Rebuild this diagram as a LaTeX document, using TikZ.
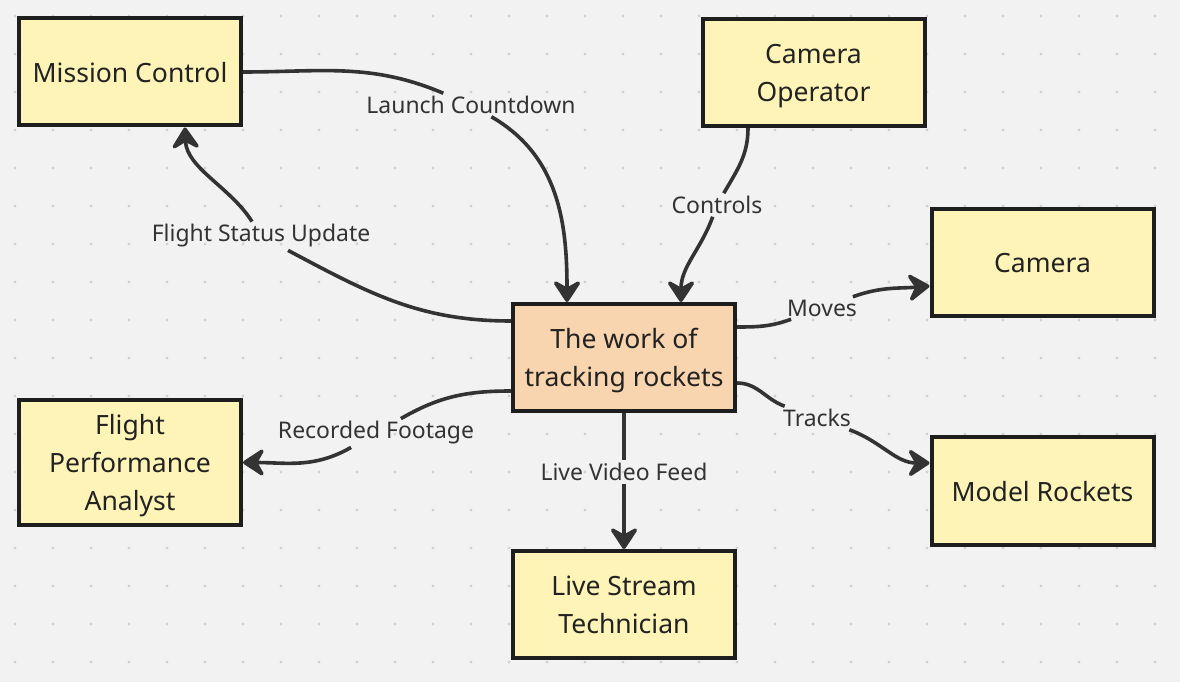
\documentclass[tikz,border=0pt]{standalone}
\usepackage{fontspec}
\setmainfont{Noto Sans}
\usepackage{xcolor}
\usepackage{tikz}
\usetikzlibrary{arrows.meta,positioning,calc}

\definecolor{bgcol}{HTML}{F2F2F2}
\definecolor{dotcol}{HTML}{D2D2D2}
\definecolor{boxfill}{HTML}{FFF4B8}
\definecolor{hubfill}{HTML}{F8D4AF}
\definecolor{boxline}{HTML}{1E1E1E}
\definecolor{linecol}{HTML}{333333}
\definecolor{txtcol}{HTML}{222222}
\definecolor{lblcol}{HTML}{333333}

\newcommand{\boxtextfont}{\fontsize{19.9pt}{28.5pt}\selectfont}
\newcommand{\edgelabelfont}{\fontsize{17.2pt}{20pt}\selectfont}

\begin{document}
\begin{tikzpicture}[
  x=0.75pt, y=0.75pt,
  box/.style={draw=boxline, line width=3pt, fill=boxfill, minimum width=166.5pt, minimum height=80.25pt, inner sep=0pt, text depth=0pt, align=center, font=\boxtextfont, text=txtcol},
  hub/.style={box, fill=hubfill},
  lbl/.style={font=\edgelabelfont, text=lblcol, inner sep=2pt},
  conn/.style={line width=2.7pt, draw=linecol},
  arr/.style={conn, -{Stealth[round, length=19pt, width=25pt, inset=7pt]}}
]
% canvas
\useasboundingbox (0,0) rectangle (1180,682);
\fill[bgcol] (0,0) rectangle (1180,682);
\foreach \i in {0,...,30}
  \foreach \j in {0,...,17}
    \fill[dotcol] (15+38*\i, 666-38*\j) circle (1.6);

% actors
\node[hub] (work) at (624,324.5) {The work of\\tracking rockets};
\node[box] (mission) at (130,610) {Mission Control};
\node[box] (operator) at (813.5,609.5) {Camera\\Operator};
\node[box] (camera) at (1042.5,419) {Camera};
\node[box, minimum height=93.75pt] (analyst) at (130,219.5) {Flight\\Performance\\Analyst};
\node[box] (rockets) at (1042.5,191) {Model Rockets};
\node[box, below=102pt of work] (tech) {Live Stream\\Technician};

% edge labels
\node[lbl] (lcount) at (471,577) {Launch Countdown};
\node[lbl] (status) at (261,446) {Flight Status Update};
\node[lbl] (ctrl) at (717,477) {Controls};
\node[lbl] (moves) at (822,374) {Moves};
\node[lbl] (tracks) at (817,264) {Tracks};
\node[lbl] (footage) at (376,249) {Recorded Footage};
\node[lbl] (feed) at (624,210) {Live Video Feed};

% flows
\draw[conn] (mission.east) to[out=0,in=157] (lcount);
\draw[arr] (lcount) to[out=-30,in=90] ($(work.north)+(-57,0)$);
\draw[conn] ($(work.west)+(0,36.5)$) to[out=180,in=-28] (status);
\draw[arr] (status) to[out=122,in=-88, looseness=0.9] ($(mission.south)+(55,0)$);
\draw[conn] ($(operator.south)+(-65.5,0)$) to[out=-90,in=60] (ctrl);
\draw[arr] (ctrl) to[out=-110,in=90] ($(work.north)+(57,0)$);
\draw[conn] ($(work.east)+(0,30.5)$) to[out=0,in=200] (moves);
\draw[arr] (moves) to[out=20,in=185] ($(camera.west)+(0,-23)$);
\draw[conn] ($(work.east)+(0,-25.5)$) to[out=0,in=160] (tracks);
\draw[arr] (tracks) to[out=-20,in=180] ($(rockets.west)+(0,28)$);
\draw[conn] ($(work.west)+(0,-33.5)$) to[out=180,in=30] (footage);
\draw[arr] (footage) to[out=-150,in=0] (analyst.east);
\draw[conn] (work.south) -- (feed);
\draw[arr] (feed) -- (tech.north);
\end{tikzpicture}
\end{document}
